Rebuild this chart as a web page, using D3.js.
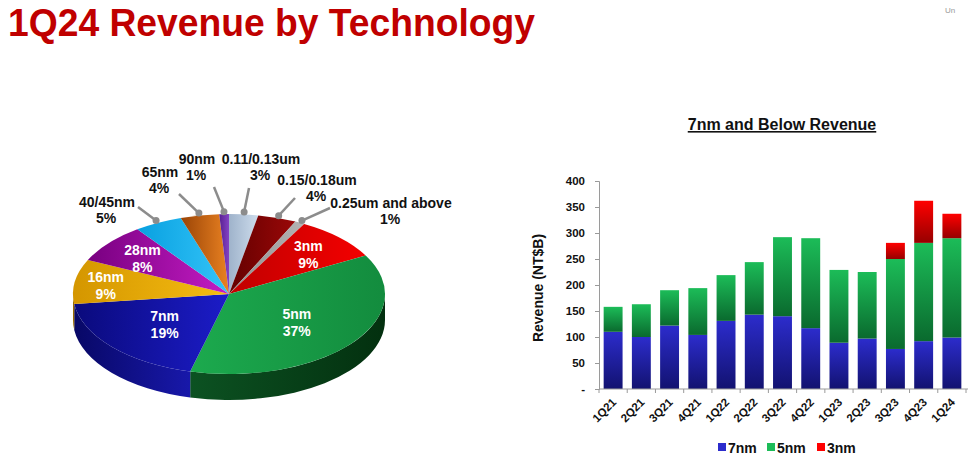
<!DOCTYPE html>
<html>
<head>
<meta charset="utf-8">
<script src="https://cdn.jsdelivr.net/npm/d3@7"></script>
<style>
  body { margin: 0; background: #fff; }
  svg { display: block; font-family: "Liberation Sans", Arial, sans-serif; font-weight: bold; }
</style>
</head>
<body>
<svg id="chart" width="968" height="463"></svg>
<script>
// 1Q24 revenue share by technology (%), clockwise from 12 o'clock
const techNodes = ['0.11/0.13um', '0.15/0.18um', '0.25um and above', '3nm', '5nm', '7nm', '16nm', '28nm', '40/45nm', '65nm', '90nm'];
const techShares = [3, 4, 1, 9, 37, 19, 9, 8, 5, 4, 1];

// 7nm and below revenue (NT$B)
const quarters = ['1Q21', '2Q21', '3Q21', '4Q21', '1Q22', '2Q22', '3Q22', '4Q22', '1Q23', '2Q23', '3Q23', '4Q23', '1Q24'];
const rev7nm = [110, 100, 122, 104, 131, 143, 140, 117, 89, 97, 77, 92, 99];
const rev5nm = [48, 63, 68, 90, 88, 101, 152, 173, 140, 128, 173, 189, 191];
const rev3nm = [0, 0, 0, 0, 0, 0, 0, 0, 0, 0, 31, 81, 47];
const yTicks = [0, 50, 100, 150, 200, 250, 300, 350, 400];
const seriesNames = ['7nm', '5nm', '3nm'];

const svg = d3.select('#chart');
const defs = svg.append('defs');

// title
svg.append('text')
    .attr('x', 8).attr('y', 36)
    .attr('font-size', 39)
    .attr('textLength', 527).attr('lengthAdjust', 'spacingAndGlyphs')
    .attr('fill', '#c00000')
    .text('1Q24 Revenue by Technology');

svg.append('text')
    .attr('x', 945).attr('y', 13)
    .attr('font-size', 8).attr('font-weight', 'normal')
    .attr('fill', '#999')
    .text('Un');

// ---------- pie ----------
// top face colours [darker, lighter]
const topColors = {
    '0.11/0.13um': ['#9fb3cb', '#cddcec'],
    '0.15/0.18um': ['#640000', '#9a0808'],
    '0.25um and above': ['#8e8e8e', '#b4b4b4'],
    '3nm': ['#c00000', '#f40000'],
    '5nm': ['#1caa4e', '#138c3e'],
    '7nm': ['#0a0a7c', '#1c1cc8'],
    '16nm': ['#d49600', '#f6bd12'],
    '28nm': ['#780080', '#c41cc4'],
    '40/45nm': ['#08a0e0', '#34c4f8'],
    '65nm': ['#9a4406', '#ea8222'],
    '90nm': ['#582090', '#8442c4']
};
const sideColors = {
    '5nm': ['#0c5222', '#03300f'],
    '7nm': ['#080866', '#1818aa'],
    '16nm': ['#8e6000', '#a87a00']
};
const whiteLabels = { '3nm': 0.72, '5nm': 0.55, '7nm': 0.55, '16nm': 0.8, '28nm': 0.72 };
const outerLabels = {
    '40/45nm': { x: 107, y: 207, end: [138, 207] },
    '65nm': { x: 160, y: 177, end: [179, 194] },
    '90nm': { x: 197, y: 164, end: [214, 187] },
    '0.11/0.13um': { x: 261, y: 164, end: [249, 188] },
    '0.15/0.18um': { x: 317, y: 185, end: [295, 198] },
    '0.25um and above': { x: 391, y: 208, end: [330, 208] }
};

const cx = 229, cy = 294, rx = 156, ry = 80, depth = 26;
const pt = (a, k = 1, dy = 0) => [cx + k * rx * Math.sin(a), cy - k * ry * Math.cos(a) + dy];

const arcs = d3.pie().sort(null).value(d => d.v)
    (techNodes.map((n, i) => ({ n, v: techShares[i] })));

const gradient = (id, c, vertical) => {
    const g = defs.append('linearGradient').attr('id', id)
        .attr('x1', 0).attr('y1', 0)
        .attr('x2', vertical ? 0 : 1).attr('y2', vertical ? 1 : 0);
    g.append('stop').attr('offset', '0%').attr('stop-color', c[0]);
    g.append('stop').attr('offset', '100%').attr('stop-color', c[1]);
};

const pie = svg.append('g');

// side wall, front half only
arcs.forEach((d, i) => {
    const s0 = Math.max(d.startAngle, Math.PI / 2);
    const s1 = Math.min(d.endAngle, 3 * Math.PI / 2);
    if (s1 <= s0) return;
    const c = sideColors[d.data.n] || topColors[d.data.n];
    gradient('side' + i, c, false);
    const a = pt(s0), b = pt(s1), b2 = pt(s1, 1, depth), a2 = pt(s0, 1, depth);
    pie.append('path')
        .attr('d', `M${a} A${rx} ${ry} 0 0 1 ${b} L${b2} A${rx} ${ry} 0 0 0 ${a2} Z`)
        .attr('fill', `url(#side${i})`);
});

// top faces
arcs.forEach((d, i) => {
    gradient('top' + i, topColors[d.data.n], false);
    const large = d.endAngle - d.startAngle > Math.PI ? 1 : 0;
    pie.append('path')
        .attr('d', `M${cx},${cy} L${pt(d.startAngle)} A${rx} ${ry} 0 ${large} 1 ${pt(d.endAngle)} Z`)
        .attr('fill', `url(#top${i})`);
});

// labels inside
arcs.filter(d => whiteLabels[d.data.n]).forEach(d => {
    const mid = (d.startAngle + d.endAngle) / 2;
    const p = pt(mid, whiteLabels[d.data.n]);
    const t = pie.append('text').attr('text-anchor', 'middle')
        .attr('font-size', 14).attr('fill', '#fff');
    t.append('tspan').attr('x', p[0]).attr('y', p[1] - 2).text(d.data.n);
    t.append('tspan').attr('x', p[0]).attr('y', p[1] + 15).text(d.data.v + '%');
});

// labels outside with leader lines
arcs.filter(d => outerLabels[d.data.n]).forEach(d => {
    const L = outerLabels[d.data.n];
    const mid = (d.startAngle + d.endAngle) / 2;
    const dot = pt(mid, 1.03);
    pie.append('line')
        .attr('x1', L.end[0]).attr('y1', L.end[1])
        .attr('x2', dot[0]).attr('y2', dot[1])
        .attr('stroke', '#8c8c8c').attr('stroke-width', 2.5);
    pie.append('circle')
        .attr('cx', dot[0]).attr('cy', dot[1]).attr('r', 3.5)
        .attr('fill', '#8c8c8c');
    const t = pie.append('text').attr('text-anchor', 'middle')
        .attr('font-size', 14).attr('fill', '#111');
    t.append('tspan').attr('x', L.x).attr('y', L.y).text(d.data.n);
    t.append('tspan').attr('x', L.x - 1).attr('y', L.y + 16).text(d.data.v + '%');
});

// ---------- stacked bars ----------
const barColors = {
    '7nm': ['#2c2ccc', '#121270'],
    '5nm': ['#1cbc58', '#0a6a2e'],
    '3nm': ['#ff0000', '#960000']
};
seriesNames.forEach(s => gradient('bar' + s, barColors[s], true));

const table = quarters.map((q, i) => ({ q, '7nm': rev7nm[i], '5nm': rev5nm[i], '3nm': rev3nm[i] }));
const stack = d3.stack().keys(seriesNames)(table);

const x = d3.scaleBand().domain(quarters).range([599, 966])
    .paddingInner(0.33).paddingOuter(0.165);
const y = d3.scaleLinear().domain([0, 400]).range([389, 181]);

const bars = svg.append('g');
bars.selectAll('g')
    .data(stack)
    .join('g')
    .attr('fill', d => `url(#bar${d.key})`)
    .selectAll('rect')
    .data(d => d.filter(v => v[1] > v[0]))
    .join('rect')
    .attr('x', d => x(d.data.q))
    .attr('width', x.bandwidth())
    .attr('y', d => y(d[1]))
    .attr('height', d => y(d[0]) - y(d[1]));

// y axis
const yAxis = svg.append('g')
    .attr('transform', 'translate(599,0)')
    .call(d3.axisLeft(y).tickValues(yTicks).tickSize(4).tickPadding(10)
        .tickFormat(d => d === 0 ? '-' : d));
yAxis.selectAll('path, line').attr('stroke', '#9a9a9a');
yAxis.selectAll('text').attr('font-size', 11.5).attr('font-family', null).attr('fill', '#111');

// x axis
const xAxis = svg.append('g');
xAxis.append('line')
    .attr('x1', 599).attr('x2', 968).attr('y1', 389).attr('y2', 389)
    .attr('stroke', '#9a9a9a');
xAxis.selectAll('line.tick')
    .data(d3.range(quarters.length + 1))
    .join('line')
    .attr('class', 'tick')
    .attr('x1', i => 599 + i * x.step()).attr('x2', i => 599 + i * x.step())
    .attr('y1', 389).attr('y2', 393)
    .attr('stroke', '#9a9a9a');
xAxis.selectAll('text')
    .data(quarters)
    .join('text')
    .attr('transform', q => `translate(${x(q) + x.bandwidth() / 2 + 4},403) rotate(-45)`)
    .attr('text-anchor', 'end')
    .attr('font-size', 11.5)
    .attr('fill', '#111')
    .text(q => q);

// axis title
svg.append('text')
    .attr('transform', 'translate(543,288) rotate(-90)')
    .attr('text-anchor', 'middle')
    .attr('font-size', 14)
    .attr('fill', '#111')
    .text('Revenue (NT$B)');

// chart title
svg.append('text')
    .attr('x', 782).attr('y', 130)
    .attr('text-anchor', 'middle')
    .attr('font-size', 16)
    .attr('text-decoration', 'underline')
    .attr('fill', '#111')
    .text('7nm and Below Revenue');

// legend
const legendX = [718, 767, 817];
const legend = svg.append('g').selectAll('g')
    .data(seriesNames)
    .join('g')
    .attr('transform', (d, i) => `translate(${legendX[i]},443)`);
legend.append('rect')
    .attr('width', 8).attr('height', 8)
    .attr('fill', d => barColors[d][0]);
legend.append('text')
    .attr('x', 10).attr('y', 9.5)
    .attr('font-size', 14)
    .attr('fill', '#111')
    .text(d => d);
</script>
</body>
</html>
